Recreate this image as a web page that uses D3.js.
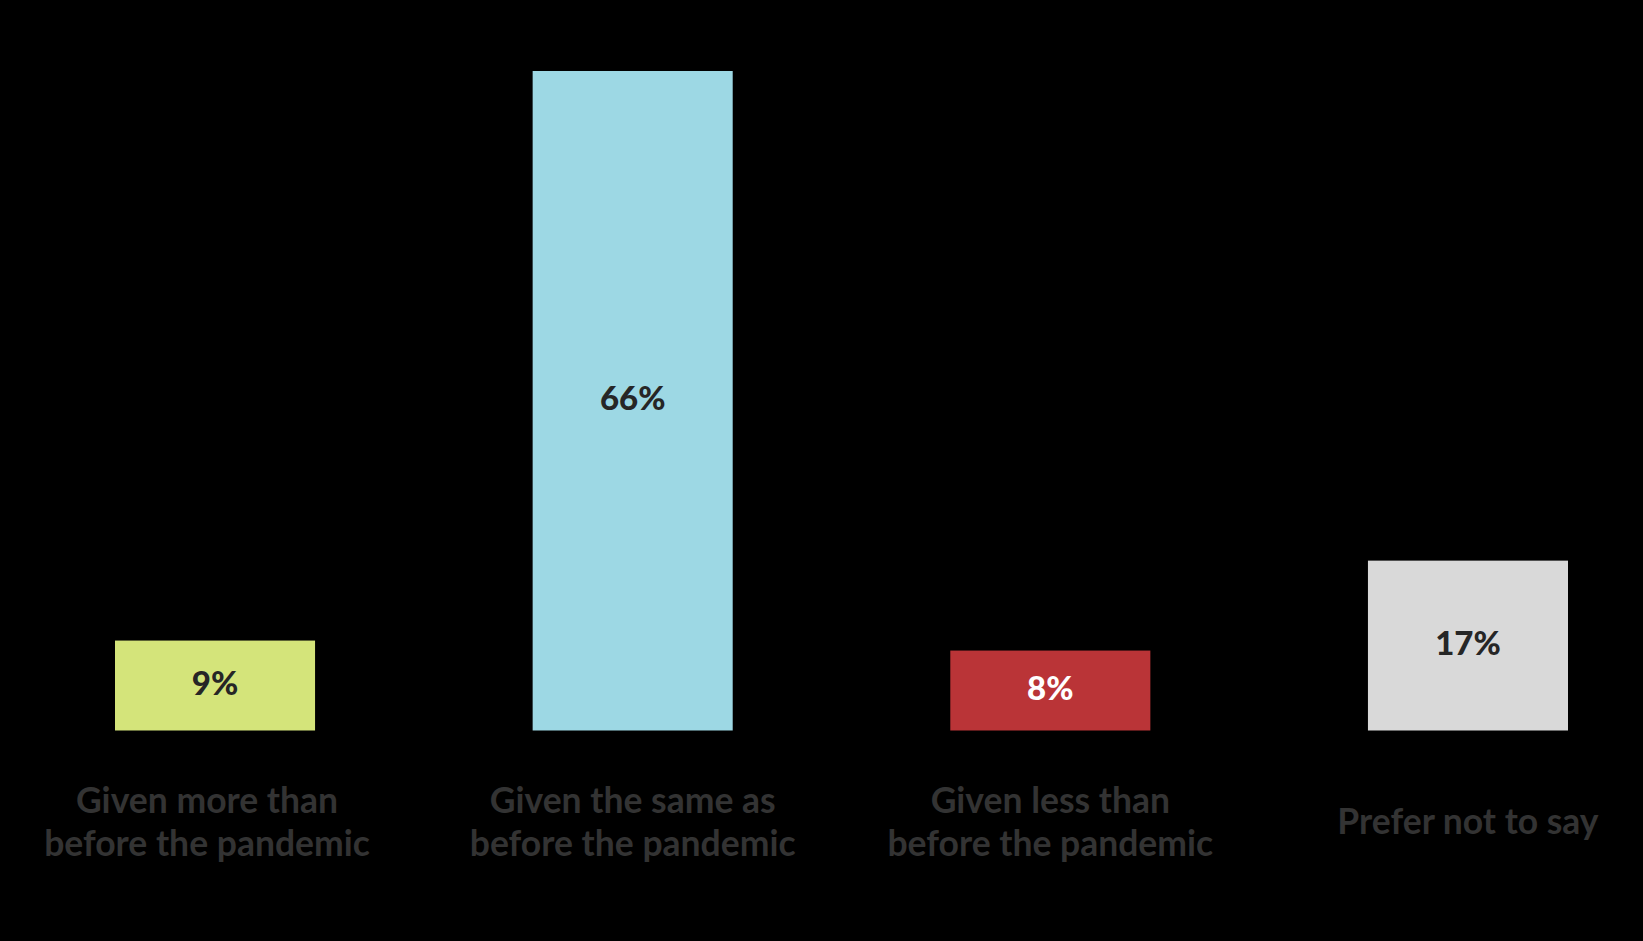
<!DOCTYPE html>
<html>
<head>
<meta charset="utf-8">
<script src="https://cdn.jsdelivr.net/npm/d3@7"></script>
<style>
  html, body { margin: 0; padding: 0; background: #000; }
  svg { display: block; }
</style>
</head>
<body>
<svg id="chart" width="1643" height="941"></svg>
<script>
// data
var categories = [
  ["Given more than", "before the pandemic"],
  ["Given the same as", "before the pandemic"],
  ["Given less than", "before the pandemic"],
  ["Prefer not to say"]
];
var values = [9, 66, 8, 17];
var barColors = ["#d4e47a", "#9dd8e4", "#ba3437", "#d9d9d9"];
var labelColors = ["#262626", "#262626", "#ffffff", "#262626"];

var width = 1643, height = 941;
var baseline = 730.5;

var svg = d3.select("#chart");

svg.append("rect")
    .attr("width", width)
    .attr("height", height)
    .attr("fill", "#000");

var x = d3.scaleBand()
    .domain(d3.range(values.length))
    .range([115, 1568])
    .paddingInner(0.521)
    .paddingOuter(0);

// 66% reaches y = 71
var y = d3.scaleLinear()
    .domain([0, 66])
    .range([baseline, 71]);

var bars = svg.selectAll("g.bar")
    .data(values)
    .enter()
    .append("g")
    .attr("class", "bar");

bars.append("rect")
    .attr("x", function(d, i) { return x(i); })
    .attr("y", function(d) { return y(d); })
    .attr("width", x.bandwidth())
    .attr("height", function(d) { return baseline - y(d); })
    .attr("fill", function(d, i) { return barColors[i]; });

bars.append("text")
    .attr("x", function(d, i) { return x(i) + x.bandwidth() / 2; })
    .attr("y", function(d) { return (y(d) + baseline) / 2 - 2; })
    .attr("dy", "0.35em")
    .attr("text-anchor", "middle")
    .style("font-family", "Lato, 'Open Sans', sans-serif")
    .style("font-weight", "900")
    .style("font-size", "33px")
    .style("fill", function(d, i) { return labelColors[i]; })
    .text(function(d) { return d + "%"; });

// category labels under bars
var lineHeight = 43;
var labelMid = 822;

var cats = svg.selectAll("text.cat")
    .data(categories)
    .enter()
    .append("text")
    .attr("class", "cat")
    .attr("text-anchor", "middle")
    .style("font-family", "Lato, 'Open Sans', sans-serif")
    .style("font-weight", "bold")
    .style("font-size", "35.5px")
    .style("fill", "#333333");

cats.each(function(lines, i) {
  var t = d3.select(this);
  var cx = x(i) + x.bandwidth() / 2 - (i === 0 ? 8 : 0);
  var top = labelMid - (lines.length - 1) * lineHeight / 2;
  lines.forEach(function(line, j) {
    t.append("tspan")
      .attr("x", cx)
      .attr("y", top + j * lineHeight)
      .attr("dy", "0.35em")
      .text(line);
  });
});
</script>
</body>
</html>
